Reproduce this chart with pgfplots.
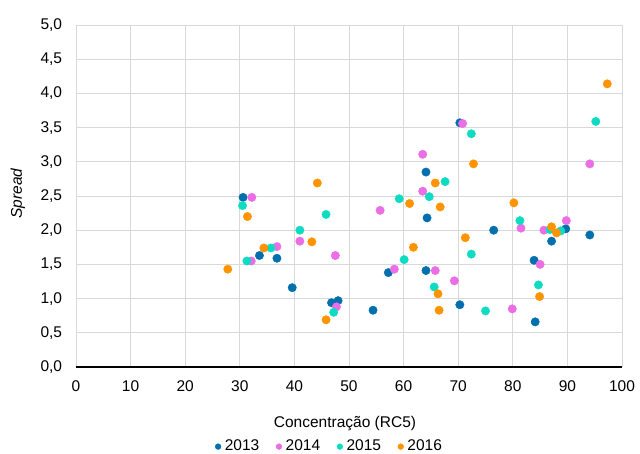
\documentclass[border=0pt]{standalone}
\usepackage{fontspec}
\setmainfont{Liberation Sans}
\usepackage{pgfplots}
\pgfplotsset{compat=1.18}
\definecolor{cA}{RGB}{0,111,173}
\definecolor{cB}{RGB}{235,110,230}
\definecolor{cC}{RGB}{14,220,194}
\definecolor{cD}{RGB}{255,148,0}
\definecolor{gridc}{RGB}{217,217,217}
\begin{document}
\fontsize{15.5bp}{18bp}\selectfont
\begin{tikzpicture}
\useasboundingbox (-76bp,-87bp) rectangle (564bp,367bp);
\begin{axis}[
 at={(0,0)}, anchor=south west,
 width=546bp, height=342bp, scale only axis,
 xmin=0, xmax=100, ymin=0, ymax=5,
 xtick={0,10,...,100},
 ytick={0,0.5,1,1.5,2,2.5,3,3.5,4,4.5,5},
 grid=major,
 major grid style={draw=gridc, line width=0.8bp},
 axis line style={draw=none},
 major tick length=0pt,
 /pgf/number format/assume math mode=true,
 yticklabel style={/pgf/number format/.cd, fixed, fixed zerofill, precision=1, use comma, /tikz/.cd, anchor=east, inner sep=0pt, xshift=-13.7bp},
 xticklabel style={anchor=base, inner sep=0pt, yshift=-24.7bp},
 xlabel={Concentração (RC5)},
 xlabel style={at={(axis description cs:0.5,0)}, anchor=base, inner sep=0pt, yshift=-60bp, xshift=-4bp},
 ylabel={\itshape Spread},
 ylabel style={at={(axis description cs:-0.1066,0.507)}, anchor=center, inner sep=0pt},
 legend style={at={(axis description cs:0,0)}, anchor=west, xshift=138.8bp, yshift=-79.6bp, draw=none, fill=none, inner sep=0pt, legend columns=4,
   /tikz/every even column/.append style={column sep=16.6bp},
   /tikz/every odd column/.append style={column sep=3.6bp},
   nodes={inner sep=0pt}},
 legend cell align=left,
 legend image code/.code={\fill[#1] (0bp,0bp) circle (2.9bp);},
]
\addplot[only marks, mark=*, color=cA, mark size=4.2bp, mark options={draw=none, fill=cA}] coordinates {
(30.6,2.48) (33.6,1.63) (36.8,1.59) (39.6,1.16) (46.8,0.94) (48.0,0.97) (54.4,0.83) (57.2,1.38) (70.3,3.57) (64.1,2.85) (64.3,2.18) (76.5,2.00) (89.7,2.02) (94.1,1.93) (87.1,1.84) (83.9,1.56) (64.1,1.41) (70.3,0.91) (84.1,0.66)};
\addlegendentry{2013}
\addplot[only marks, mark=*, color=cB, mark size=4.2bp, mark options={draw=none, fill=cB}] coordinates {
(32.2,2.48) (41.0,1.84) (36.8,1.76) (47.5,1.63) (32.1,1.55) (47.7,0.88) (55.7,2.29) (58.3,1.43) (70.8,3.56) (63.5,3.11) (94.1,2.97) (63.5,2.57) (81.5,2.03) (85.7,2.00) (89.8,2.14) (85.0,1.50) (65.8,1.41) (69.3,1.26) (79.9,0.85)};
\addlegendentry{2014}
\addplot[only marks, mark=*, color=cC, mark size=4.2bp, mark options={draw=none, fill=cC}] coordinates {
(30.5,2.36) (45.8,2.23) (41.0,2.00) (35.7,1.74) (31.3,1.55) (47.2,0.80) (59.2,2.46) (72.4,3.41) (95.2,3.59) (67.6,2.71) (64.7,2.49) (81.3,2.14) (86.8,2.01) (88.8,1.99) (72.4,1.65) (60.1,1.57) (65.6,1.17) (84.7,1.20) (75.0,0.82)};
\addlegendentry{2015}
\addplot[only marks, mark=*, color=cD, mark size=4.2bp, mark options={draw=none, fill=cD}] coordinates {
(44.2,2.69) (31.4,2.20) (43.2,1.83) (34.4,1.74) (27.8,1.43) (45.8,0.69) (72.8,2.97) (65.8,2.69) (61.1,2.39) (66.7,2.34) (80.2,2.40) (87.1,2.05) (88.0,1.96) (71.3,1.89) (61.8,1.75) (66.3,1.07) (84.9,1.03) (66.5,0.83) (97.3,4.14)};
\addlegendentry{2016}
\draw[black, line width=1.8bp] (axis cs:0,0) -- (axis cs:100,0);
\end{axis}
\end{tikzpicture}
\end{document}
